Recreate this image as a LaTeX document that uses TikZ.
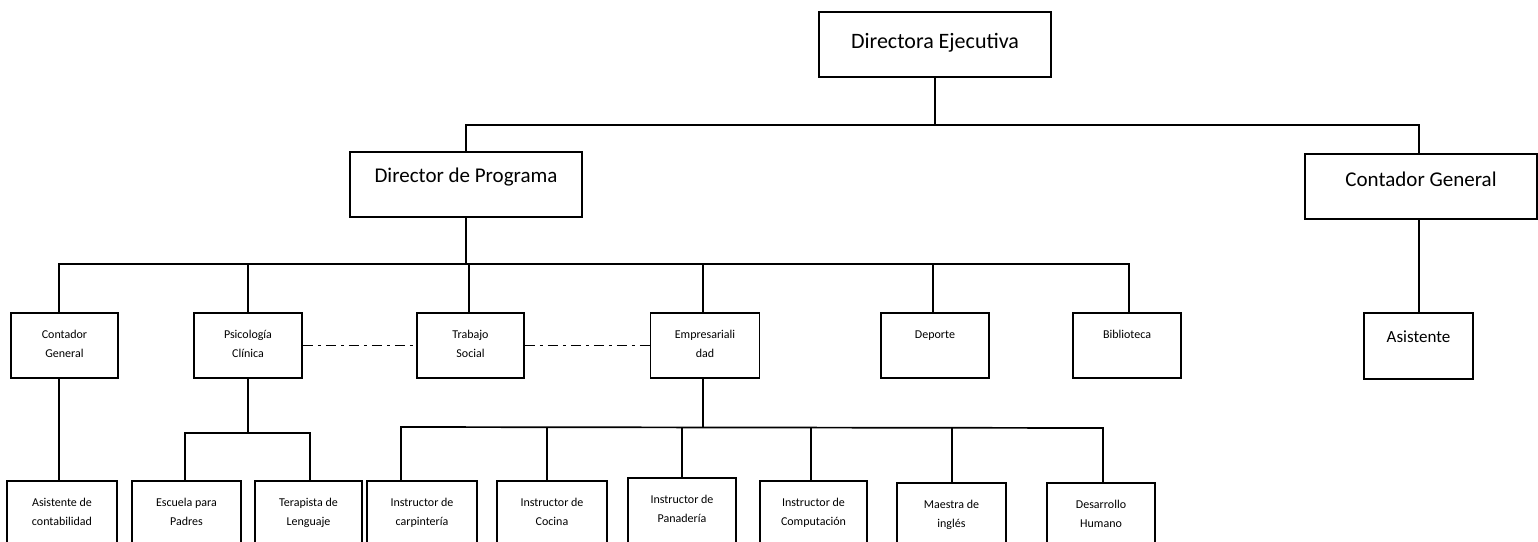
\documentclass[tikz,border=0pt]{standalone}
\usepackage{fontspec}
\setmainfont{Carlito}
\usetikzlibrary{calc}
\begin{document}
\begin{tikzpicture}[x=1pt,y=-1pt,
  box/.style={draw, line width=1.8pt, fill=white, inner sep=0pt, rectangle},
  conn/.style={line width=1.7pt},
  dd/.style={line width=1.7pt, dash pattern=on 10pt off 5pt on 3pt off 5pt},
  big/.style={font=\fontsize{21}{25}\selectfont, anchor=center, text height=14pt, text depth=4pt, inner sep=0pt},
  small/.style={font=\fontsize{12}{19}\selectfont, align=center, anchor=north, inner sep=0pt},
]
\clip (0,0) rectangle (1538,541);
\useasboundingbox (0,0) rectangle (1538,541);

% level 1-2
\node[box, minimum width=232, minimum height=65] (de) at (935,44.5) {};
\node[box, minimum width=232, minimum height=65] (dp) at (466,184.5) {};
\node[box, minimum width=232, minimum height=65] (cgt) at (1421,186.5) {};
% level 3
\node[box, minimum width=107, minimum height=65] (cg) at (64.5,345.5) {};
\node[box, minimum width=108, minimum height=65] (psi) at (248,345.5) {};
\node[box, minimum width=107, minimum height=65] (ts) at (470.5,345.5) {};
\node[box, minimum width=109, minimum height=65] (emp) at (705,345.5) {};
\node[box, minimum width=108, minimum height=65] (dep) at (935,345.5) {};
\node[box, minimum width=108, minimum height=65] (bib) at (1127,345.5) {};
\node[box, minimum width=109, minimum height=66] (asis) at (1418.5,346) {};
% level 4
\node[box, minimum width=110, minimum height=80] (ac) at (62,521) {};
\node[box, minimum width=109, minimum height=80] (ep) at (186.5,521) {};
\node[box, minimum width=107, minimum height=80] (tl) at (308.5,521) {};
\node[box, minimum width=110, minimum height=80] (icar) at (422,521) {};
\node[box, minimum width=110, minimum height=80] (icoc) at (552,521) {};
\node[box, minimum width=108, minimum height=80] (ipan) at (682,518) {};
\node[box, minimum width=107, minimum height=80] (icom) at (813.5,521) {};
\node[box, minimum width=109, minimum height=80] (mi) at (951.5,523) {};
\node[box, minimum width=108, minimum height=80] (dh) at (1101,523) {};

% texts
\node[big, font=\fontsize{22}{26}\selectfont] (tde) at ($(de.north)+(0,32)$) {Directora Ejecutiva};
\node[big] (tdp) at ($(dp.north)+(0,26)$) {Director de Programa};
\node[big] (tcgt) at ($(cgt.north)+(0,28)$) {Contador General};
\node[big, font=\fontsize{17}{20}\selectfont] (tasis) at ($(asis.north)+(0,25)$) {Asistente};

\node[small] (tcg) at ($(cg.north)+(0,18)$) {Contador\\General};
\node[small] (tpsi) at ($(psi.north)+(0,18)$) {Psicología\\Clínica};
\node[small] (tts) at ($(ts.north)+(0,18)$) {Trabajo\\Social};
\node[small] (temp) at ($(emp.north)+(0,18)$) {Empresariali\\dad};
\node[small] (tdep) at ($(dep.north)+(0,18)$) {Deporte};
\node[small] (tbib) at ($(bib.north)+(0,18)$) {Biblioteca};

\node[small] (tac) at ($(ac.north)+(0,18)$) {Asistente de\\contabilidad};
\node[small] (tep) at ($(ep.north)+(0,18)$) {Escuela para\\Padres};
\node[small] (ttl) at ($(tl.north)+(0,18)$) {Terapista de\\Lenguaje};
\node[small] (ticar) at ($(icar.north)+(0,18)$) {Instructor de\\carpintería};
\node[small] (ticoc) at ($(icoc.north)+(0,18)$) {Instructor de\\Cocina};
\node[small] (tipan) at ($(ipan.north)+(0,18)$) {Instructor de\\Panadería};
\node[small] (ticom) at ($(icom.north)+(0,18)$) {Instructor de\\Computación};
\node[small] (tmi) at ($(mi.north)+(0,18)$) {Maestra de\\inglés};
\node[small] (tdh) at ($(dh.north)+(0,18)$) {Desarrollo\\Humano};

% connectors level 1-2
\coordinate (h1L) at (466,125);
\coordinate (h1R) at (1419,125);
\draw[conn] (de) -- (de |- h1L);
\draw[conn] (dp) -- (h1L) -- (h1R) -- (h1R |- cgt.north);
\draw[conn] (h1R |- cgt.south) -- (h1R |- asis.north);

% connectors level 3
\coordinate (h3L) at (59,264);
\coordinate (h3R) at (1129,264);
\draw[conn] (dp) -- (dp |- h3L);
\draw[conn] (h3L |- cg.north) -- (h3L) -- (h3R) -- (h3R |- bib.north);
\draw[conn] (psi) -- (psi |- h3L);
\coordinate (v3ts) at (469,264);
\draw[conn] (v3ts) -- (v3ts |- ts.north);
\coordinate (v3emp) at (703,264);
\draw[conn] (v3emp) -- (v3emp |- emp.north);
\coordinate (v3dep) at (933,264);
\draw[conn] (v3dep) -- (v3dep |- dep.north);

% dash-dot relations
\draw[dd] (psi.east) -- (ts.west);
\draw[dd] (ts.east) -- (emp.west);

% level 4 connectors
\draw[conn] (h3L |- cg.south) -- (h3L |- ac.north);

\coordinate (pL) at (185,433);
\coordinate (pR) at (310,433);
\draw[conn] (psi) -- (psi |- pL);
\draw[conn] (pL |- ep.north) -- (pL) -- (pR) -- (pR |- tl.north);

\coordinate (e1) at (401,427);
\coordinate (e2) at (547,427);
\coordinate (e3) at (682,427);
\coordinate (e4) at (811,427);
\coordinate (e5) at (952,428);
\coordinate (e6) at (1103,428);
\coordinate (ev) at (703,427);
\draw[conn] (ev |- emp.south) -- (ev);
\draw[conn] (e1 |- icar.north) -- (e1) -- (e6) -- (e6 |- dh.north);
\draw[conn] (e2) -- (e2 |- icoc.north);
\draw[conn] (e3) -- (e3 |- ipan.north);
\draw[conn] (e4) -- (e4 |- icom.north);
\draw[conn] (e5) -- (e5 |- mi.north);
\end{tikzpicture}
\end{document}
